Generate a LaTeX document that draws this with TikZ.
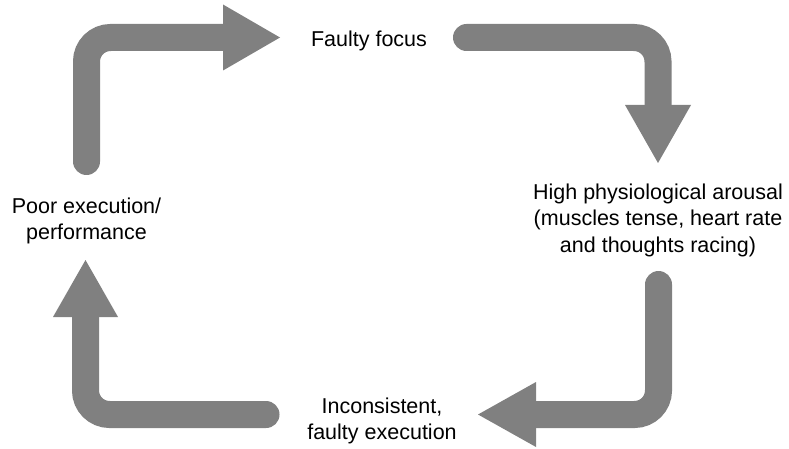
\documentclass[tikz,border=0pt]{standalone}
\usepackage{fontspec}
\setmainfont{Liberation Sans}
\definecolor{arrgray}{HTML}{808080}
\begin{document}
\begin{tikzpicture}[x=1pt,y=-1pt,
  stem/.style={draw=arrgray,line width=27pt,line cap=round,rounded corners=24pt},
  head/.style={fill=arrgray,draw=none},
  lbl/.style={align=center,inner sep=0pt,anchor=base,font=\fontsize{21.5}{26.5}\selectfont}]
\useasboundingbox (0,0) rectangle (789,449);
% labels (base anchor = baseline of the last line)
\node[lbl] (focus) at (369,47) {Faulty focus};
\node[lbl] (arousal) at (658,252) {High physiological arousal\\(muscles tense, heart rate\\and thoughts racing)};
\node[lbl] (incons) at (382,439.5) {Inconsistent,\\faulty execution};
\node[lbl] (poor) at (86.5,239.5) {Poor execution/\\performance};
% arrow 1
\coordinate (a1s) at (86.5,161.5);
\coordinate (a1b) at (223,37.5);
\coordinate (a1t) at (280,37.5);
\draw[stem] (a1s) |- (a1b);
\fill[head] (223,4.5) -- (a1t) -- (223,70.5) -- cycle;
% arrow 2
\coordinate (a2s) at (466.5,37.5);
\coordinate (a2b) at (658,105);
\coordinate (a2t) at (658,163);
\draw[stem] (a2s) -| (a2b);
\fill[head] (625,105) -- (691,105) -- (a2t) -- cycle;
% arrow 3
\coordinate (a3s) at (658.5,284.5);
\coordinate (a3b) at (536,414.5);
\coordinate (a3t) at (478,414.5);
\draw[stem] (a3s) |- (a3b);
\fill[head] (536,382) -- (536,447) -- (a3t) -- cycle;
% arrow 4
\coordinate (a4s) at (266,414.5);
\coordinate (a4b) at (85.5,317);
\coordinate (a4t) at (85.5,260);
\draw[stem] (a4s) -| (a4b);
\fill[head] (53,317) -- (118,317) -- (a4t) -- cycle;
\end{tikzpicture}
\end{document}
